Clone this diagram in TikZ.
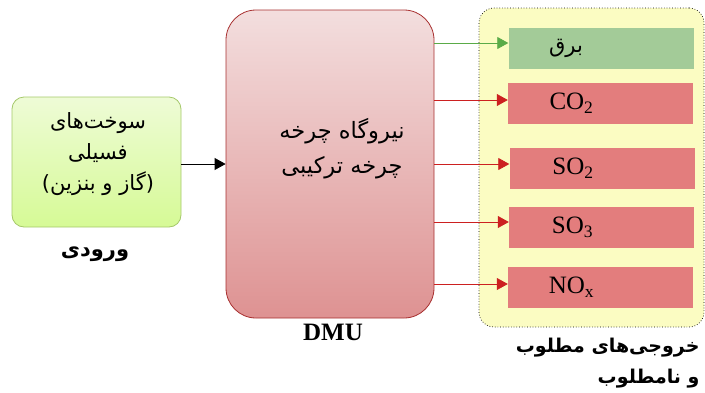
\documentclass[tikz,border=0pt]{standalone}
\usepackage{fontspec}
\setmainfont{Liberation Serif}
\newfontfamily\fa[Script=Arabic]{DejaVu Sans}
\TeXXeTstate=1
\usetikzlibrary{arrows.meta,positioning}
\definecolor{inbd}{RGB}{165,200,106}
\definecolor{intop}{RGB}{238,251,214}
\definecolor{inbot}{RGB}{214,250,150}
\definecolor{dmubd}{RGB}{168,48,48}
\definecolor{dmutop}{RGB}{243,222,222}
\definecolor{dmubot}{RGB}{222,146,146}
\definecolor{yel}{RGB}{251,252,194}
\definecolor{gbox}{RGB}{163,203,152}
\definecolor{rbox}{RGB}{227,125,125}
\definecolor{garr}{RGB}{90,171,72}
\definecolor{rarr}{RGB}{204,32,32}
\tikzset{
  outbox/.style={rectangle, minimum width=185pt, minimum height=41pt, inner sep=0pt},
  chem/.style={font=\fontsize{25}{26}\selectfont, xshift=-29pt, inner sep=0pt},
  garrow/.style={draw=garr, line width=0.8pt, -{Triangle[length=11pt,width=12pt]}},
  rarrow/.style={draw=rarr, line width=0.8pt, -{Triangle[length=11pt,width=12pt]}},
}
\begin{document}
\begin{tikzpicture}[x=1pt,y=-1pt]
\useasboundingbox (0,0) rectangle (705,392);
% input
\node[draw=inbd, line width=0.8pt, rounded corners=12pt, top color=intop, bottom color=inbot,
      minimum width=169pt, minimum height=130pt, inner sep=0pt] (in) at (96.5,162) {};
\node[align=center, font=\fa\fontsize{21}{31}\selectfont] (intxt) at (98,154)
  {\beginR سوخت^^^^200cهای\endR\\ \beginR فسیلی\endR\\ \beginR (گاز و بنزین)\endR};
\node[font=\fa\bfseries\fontsize{21}{22}\selectfont] (inlbl) at (95,254) {\beginR ورودی\endR};
% DMU
\node[draw=dmubd, line width=0.8pt, rounded corners=30pt, top color=dmutop, bottom color=dmubot,
      minimum width=208pt, minimum height=308pt, inner sep=0pt] (dmu) at (330,164) {};
\node[align=center, font=\fa\fontsize{22.5}{35}\selectfont] (dmutxt) at (342,149)
  {\beginR نیروگاه چرخه\endR\\ \beginR چرخه ترکیبی\endR};
\node[font=\bfseries\fontsize{25}{26}\selectfont] (dmulbl) at (333,332) {DMU};
% outputs container
\node[draw=black, dotted, line width=0.7pt, rounded corners=15pt, fill=yel,
      minimum width=225pt, minimum height=319pt, inner sep=0pt] (outc) at (591.5,167.5) {};
\node[outbox, fill=gbox, label={[font=\fa\fontsize{21}{22}\selectfont, xshift=-35pt]center:\beginR برق\endR}] (b1) at (601,48.5) {};
\node[outbox, fill=rbox, label={[chem]center:CO\textsubscript{2}}] (b2) at (600.5,103.5) {};
\node[outbox, fill=rbox, label={[chem]center:SO\textsubscript{2}}] (b3) at (602,168) {};
\node[outbox, fill=rbox, label={[chem]center:SO\textsubscript{3}}] (b4) at (601.5,227) {};
\node[outbox, fill=rbox, label={[chem]center:NO\textsubscript{x}}] (b5) at (600.5,287) {};
\node[align=right, anchor=north east, font=\fa\bfseries\fontsize{19}{31}\selectfont] (outlbl) at (703,335)
  {\beginR خروجی^^^^200cهای مطلوب\endR\\ \beginR و نامطلوب\endR};
% connectors
\draw[line width=0.8pt, -{Triangle[length=11pt,width=12pt]}] ([yshift=-2pt]in.east) -- ([yshift=-2pt]in.east -| dmu.west);
\draw[garrow] ([yshift=5.5pt]b1.west -| dmu.east) -- ([yshift=5.5pt]b1.west);
\draw[rarrow] ([yshift=3.5pt]b2.west -| dmu.east) -- ([yshift=3.5pt]b2.west);
\draw[rarrow] ([yshift=4pt]b3.west -| dmu.east) -- ([yshift=4pt]b3.west);
\draw[rarrow] ([yshift=5pt]b4.west -| dmu.east) -- ([yshift=5pt]b4.west);
\draw[rarrow] ([yshift=3pt]b5.west -| dmu.east) -- ([yshift=3pt]b5.west);
\end{tikzpicture}
\end{document}
